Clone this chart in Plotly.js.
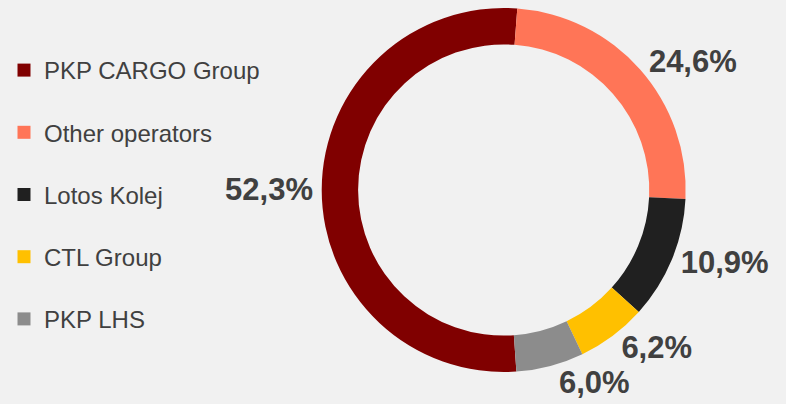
<!DOCTYPE html>
<html>
<head>
<meta charset="utf-8">
<script src="https://cdn.plot.ly/plotly-3.0.1.min.js"></script>
<style>
  html, body { margin: 0; padding: 0; background: #f1f1f1; }
  #chart { width: 786px; height: 404px; }
</style>
</head>
<body>
<div id="chart"></div>
<script>
const categories = ["PKP CARGO Group", "Other operators", "Lotos Kolej", "CTL Group", "PKP LHS"];
const shares = [52.3, 24.6, 10.9, 6.2, 6.0];
const colors = ["#800000", "#FF7557", "#202020", "#FFC000", "#8C8C8C"];

const textColor = "#404040";

const pieTrace = {
  type: "pie",
  labels: categories,
  values: shares,
  sort: false,
  direction: "clockwise",
  rotation: 176,
  hole: 0.8,
  marker: { colors: colors, line: { width: 0 } },
  textposition: "outside",
  texttemplate: "%{percent:.1%}",
  outsidetextfont: { family: "Liberation Sans, Arial, sans-serif", size: 31, color: textColor, weight: "bold" },
  showlegend: false,
  hoverinfo: "none",
  domain: { x: [321.7 / 786, 685.7 / 786], y: [32 / 404, 396 / 404] }
};

const legendTraces = categories.map((name, i) => ({
  type: "scatter",
  mode: "markers",
  x: [null],
  y: [null],
  name: name,
  legendgroup: "g" + i,
  marker: { symbol: "square", size: 13, color: colors[i] },
  hoverinfo: "skip",
  showlegend: true
}));

const layout = {
  width: 786,
  height: 404,
  margin: { l: 0, r: 0, t: 0, b: 0 },
  paper_bgcolor: "#f1f1f1",
  plot_bgcolor: "#f1f1f1",
  separators: ", ",
  xaxis: { visible: false, domain: [0, 0.01] },
  yaxis: { visible: false, domain: [0, 0.01] },
  showlegend: true,
  legend: {
    x: 4 / 786,
    xanchor: "left",
    y: 1 - 48 / 404,
    yanchor: "top",
    bgcolor: "rgba(0,0,0,0)",
    font: { family: "Liberation Sans, Arial, sans-serif", size: 24, color: textColor },
    tracegroupgap: 28,
    traceorder: "grouped",
    itemclick: false,
    itemdoubleclick: false
  },
  hovermode: false
};

Plotly.newPlot("chart", [pieTrace].concat(legendTraces), layout, { displayModeBar: false, staticPlot: true });
</script>
</body>
</html>
